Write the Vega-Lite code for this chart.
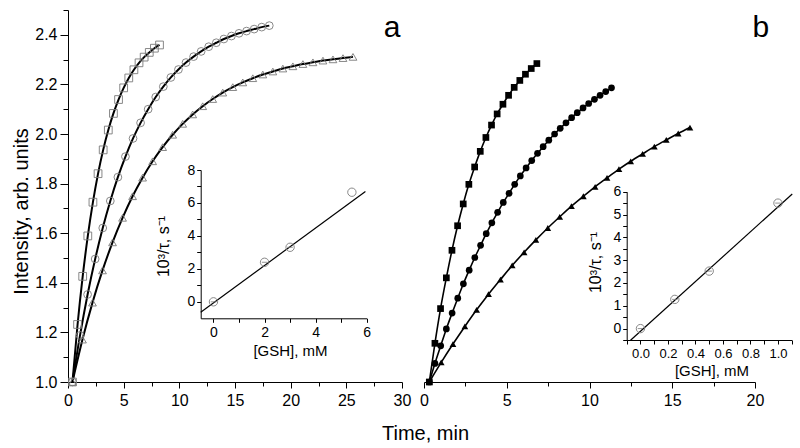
{
  "$schema": "https://vega.github.io/schema/vega-lite/v6.json",
  "width": 732,
  "height": 372,
  "autosize": "none",
  "padding": {"left": 68, "top": 10, "right": 0, "bottom": 66},
  "background": "white",
  "config": {
    "view": {"stroke": null},
    "font": "Liberation Sans",
    "axis": {"domainColor": "black", "tickColor": "black", "labelColor": "black", "titleColor": "black", "grid": false, "labelFont": "Liberation Sans", "titleFont": "Liberation Sans", "titleFontWeight": "normal", "domainWidth": 1, "tickWidth": 1, "labelOverlap": false, "labelFlush": false}
  },
  "datasets": {
    "pa": [
      {"s": "sq", "t": 0.4, "I": 1.0}, {"s": "sq", "t": 0.86, "I": 1.232}, {"s": "sq", "t": 1.32, "I": 1.426}, {"s": "sq", "t": 1.78, "I": 1.589}, {"s": "sq", "t": 2.24, "I": 1.725}, {"s": "sq", "t": 2.7, "I": 1.84}, {"s": "sq", "t": 3.16, "I": 1.936}, {"s": "sq", "t": 3.62, "I": 2.016}, {"s": "sq", "t": 4.08, "I": 2.083}, {"s": "sq", "t": 4.54, "I": 2.139}, {"s": "sq", "t": 5.0, "I": 2.186}, {"s": "sq", "t": 5.46, "I": 2.226}, {"s": "sq", "t": 5.92, "I": 2.259}, {"s": "sq", "t": 6.38, "I": 2.287}, {"s": "sq", "t": 6.84, "I": 2.31}, {"s": "sq", "t": 7.3, "I": 2.329}, {"s": "sq", "t": 7.76, "I": 2.346}, {"s": "sq", "t": 8.22, "I": 2.359},
      {"s": "ci", "t": 0.4, "I": 1.0}, {"s": "ci", "t": 1.08, "I": 1.188}, {"s": "ci", "t": 1.76, "I": 1.353}, {"s": "ci", "t": 2.44, "I": 1.496}, {"s": "ci", "t": 3.12, "I": 1.621}, {"s": "ci", "t": 3.8, "I": 1.73}, {"s": "ci", "t": 4.48, "I": 1.826}, {"s": "ci", "t": 5.16, "I": 1.909}, {"s": "ci", "t": 5.84, "I": 1.982}, {"s": "ci", "t": 6.52, "I": 2.045}, {"s": "ci", "t": 7.2, "I": 2.1}, {"s": "ci", "t": 7.88, "I": 2.149}, {"s": "ci", "t": 8.56, "I": 2.191}, {"s": "ci", "t": 9.24, "I": 2.228}, {"s": "ci", "t": 9.92, "I": 2.26}, {"s": "ci", "t": 10.6, "I": 2.288}, {"s": "ci", "t": 11.28, "I": 2.312}, {"s": "ci", "t": 11.96, "I": 2.333}, {"s": "ci", "t": 12.64, "I": 2.352}, {"s": "ci", "t": 13.32, "I": 2.368}, {"s": "ci", "t": 14.0, "I": 2.383}, {"s": "ci", "t": 14.68, "I": 2.395}, {"s": "ci", "t": 15.36, "I": 2.406}, {"s": "ci", "t": 16.04, "I": 2.415}, {"s": "ci", "t": 16.72, "I": 2.423}, {"s": "ci", "t": 17.4, "I": 2.431}, {"s": "ci", "t": 18.08, "I": 2.437},
      {"s": "tr", "t": 0.4, "I": 1.0}, {"s": "tr", "t": 1.3, "I": 1.171}, {"s": "tr", "t": 2.2, "I": 1.32}, {"s": "tr", "t": 3.1, "I": 1.45}, {"s": "tr", "t": 4.0, "I": 1.563}, {"s": "tr", "t": 4.9, "I": 1.662}, {"s": "tr", "t": 5.8, "I": 1.749}, {"s": "tr", "t": 6.7, "I": 1.824}, {"s": "tr", "t": 7.6, "I": 1.89}, {"s": "tr", "t": 8.5, "I": 1.947}, {"s": "tr", "t": 9.4, "I": 1.997}, {"s": "tr", "t": 10.3, "I": 2.041}, {"s": "tr", "t": 11.2, "I": 2.079}, {"s": "tr", "t": 12.1, "I": 2.112}, {"s": "tr", "t": 13.0, "I": 2.141}, {"s": "tr", "t": 13.9, "I": 2.167}, {"s": "tr", "t": 14.8, "I": 2.189}, {"s": "tr", "t": 15.7, "I": 2.208}, {"s": "tr", "t": 16.6, "I": 2.225}, {"s": "tr", "t": 17.5, "I": 2.24}, {"s": "tr", "t": 18.4, "I": 2.252}, {"s": "tr", "t": 19.3, "I": 2.264}, {"s": "tr", "t": 20.2, "I": 2.273}, {"s": "tr", "t": 21.1, "I": 2.282}, {"s": "tr", "t": 22.0, "I": 2.289}, {"s": "tr", "t": 22.9, "I": 2.296}, {"s": "tr", "t": 23.8, "I": 2.301}, {"s": "tr", "t": 24.7, "I": 2.306}, {"s": "tr", "t": 25.6, "I": 2.311}
    ],
    "pb": [
      {"s": "sq", "t": 0.32, "I": 1.0}, {"s": "sq", "t": 0.66, "I": 1.156}, {"s": "sq", "t": 1.0, "I": 1.296}, {"s": "sq", "t": 1.35, "I": 1.42}, {"s": "sq", "t": 1.69, "I": 1.531}, {"s": "sq", "t": 2.03, "I": 1.63}, {"s": "sq", "t": 2.37, "I": 1.718}, {"s": "sq", "t": 2.71, "I": 1.797}, {"s": "sq", "t": 3.06, "I": 1.867}, {"s": "sq", "t": 3.4, "I": 1.93}, {"s": "sq", "t": 3.74, "I": 1.986}, {"s": "sq", "t": 4.08, "I": 2.036}, {"s": "sq", "t": 4.42, "I": 2.081}, {"s": "sq", "t": 4.77, "I": 2.12}, {"s": "sq", "t": 5.11, "I": 2.156}, {"s": "sq", "t": 5.45, "I": 2.188}, {"s": "sq", "t": 5.79, "I": 2.216}, {"s": "sq", "t": 6.13, "I": 2.241}, {"s": "sq", "t": 6.48, "I": 2.264}, {"s": "sq", "t": 6.82, "I": 2.284},
      {"s": "ci", "t": 0.32, "I": 1.0}, {"s": "ci", "t": 0.66, "I": 1.075}, {"s": "ci", "t": 1.01, "I": 1.146}, {"s": "ci", "t": 1.35, "I": 1.214}, {"s": "ci", "t": 1.7, "I": 1.278}, {"s": "ci", "t": 2.04, "I": 1.338}, {"s": "ci", "t": 2.38, "I": 1.396}, {"s": "ci", "t": 2.73, "I": 1.451}, {"s": "ci", "t": 3.07, "I": 1.502}, {"s": "ci", "t": 3.42, "I": 1.551}, {"s": "ci", "t": 3.76, "I": 1.598}, {"s": "ci", "t": 4.1, "I": 1.642}, {"s": "ci", "t": 4.45, "I": 1.684}, {"s": "ci", "t": 4.79, "I": 1.724}, {"s": "ci", "t": 5.14, "I": 1.761}, {"s": "ci", "t": 5.48, "I": 1.797}, {"s": "ci", "t": 5.82, "I": 1.831}, {"s": "ci", "t": 6.17, "I": 1.863}, {"s": "ci", "t": 6.51, "I": 1.893}, {"s": "ci", "t": 6.86, "I": 1.922}, {"s": "ci", "t": 7.2, "I": 1.949}, {"s": "ci", "t": 7.54, "I": 1.975}, {"s": "ci", "t": 7.89, "I": 2.0}, {"s": "ci", "t": 8.23, "I": 2.023}, {"s": "ci", "t": 8.58, "I": 2.045}, {"s": "ci", "t": 8.92, "I": 2.066}, {"s": "ci", "t": 9.26, "I": 2.086}, {"s": "ci", "t": 9.61, "I": 2.105}, {"s": "ci", "t": 9.95, "I": 2.123}, {"s": "ci", "t": 10.3, "I": 2.14}, {"s": "ci", "t": 10.64, "I": 2.156}, {"s": "ci", "t": 10.98, "I": 2.171}, {"s": "ci", "t": 11.33, "I": 2.186},
      {"s": "tr", "t": 0.32, "I": 1.0}, {"s": "tr", "t": 1.04, "I": 1.079}, {"s": "tr", "t": 1.75, "I": 1.153}, {"s": "tr", "t": 2.47, "I": 1.224}, {"s": "tr", "t": 3.18, "I": 1.291}, {"s": "tr", "t": 3.9, "I": 1.354}, {"s": "tr", "t": 4.62, "I": 1.413}, {"s": "tr", "t": 5.33, "I": 1.47}, {"s": "tr", "t": 6.05, "I": 1.523}, {"s": "tr", "t": 6.76, "I": 1.573}, {"s": "tr", "t": 7.48, "I": 1.621}, {"s": "tr", "t": 8.2, "I": 1.666}, {"s": "tr", "t": 8.91, "I": 1.709}, {"s": "tr", "t": 9.63, "I": 1.749}, {"s": "tr", "t": 10.34, "I": 1.787}, {"s": "tr", "t": 11.06, "I": 1.823}, {"s": "tr", "t": 11.78, "I": 1.858}, {"s": "tr", "t": 12.49, "I": 1.89}, {"s": "tr", "t": 13.21, "I": 1.92}, {"s": "tr", "t": 13.92, "I": 1.949}, {"s": "tr", "t": 14.64, "I": 1.976}, {"s": "tr", "t": 15.36, "I": 2.002}, {"s": "tr", "t": 16.07, "I": 2.026}
    ]
  },
  "layer": [
    {
      "data": {"name": "pa"},
      "encoding": {
        "x": {"field": "t", "type": "quantitative", "scale": {"domain": [0, 30], "range": [0, 334], "nice": false, "zero": false},
          "axis": {"orient": "bottom", "values": [0, 2.5, 5, 7.5, 10, 12.5, 15, 17.5, 20, 22.5, 25, 27.5, 30], "labelExpr": "datum.value % 5 === 0 ? format(datum.value, 'd') : ''", "labelFontSize": 16, "labelPadding": 4, "tickSize": {"condition": {"test": "datum.value % 5 === 0", "value": 6}, "value": 4}, "title": "Time, min", "titleFontSize": 20, "titleX": 357, "titleY": 57, "titleAlign": "center", "titleBaseline": "alphabetic"}},
        "y": {"field": "I", "type": "quantitative", "scale": {"domain": [1, 2.5], "range": [372, 0], "nice": false, "zero": false},
          "axis": {"orient": "left", "values": [1, 1.1, 1.2, 1.3, 1.4, 1.5, 1.6, 1.7, 1.8, 1.9, 2, 2.1, 2.2, 2.3, 2.4, 2.5], "labelExpr": "round(datum.value*10) % 2 === 0 ? format(datum.value, '.1f') : ''", "labelFontSize": 16, "labelPadding": 3, "tickSize": {"condition": {"test": "round(datum.value*10) % 2 === 0", "value": 8}, "value": 5}, "title": "Intensity, arb. units", "titleFontSize": 20, "titleAngle": -90, "titleX": -41, "titleY": 201, "titleAlign": "center", "titleBaseline": "alphabetic"}}
      },
      "layer": [
        {"mark": {"type": "line", "color": "black", "strokeWidth": 2, "interpolate": "monotone"}, "encoding": {"detail": {"field": "s", "type": "nominal"}}},
        {"mark": {"type": "point", "filled": false, "stroke": "#7a7a7a", "strokeWidth": 0.9, "size": 60, "opacity": 1},
          "encoding": {"shape": {"field": "s", "type": "nominal", "scale": {"domain": ["sq", "ci", "tr"], "range": ["square", "circle", "triangle-up"]}, "legend": null}}},
        {"data": {"values": [{"label": "a", "t": 29.1, "I": 2.39}]}, "mark": {"type": "text", "fontSize": 30, "align": "center", "baseline": "alphabetic", "color": "black"}, "encoding": {"text": {"field": "label"}}}
      ]
    },
    {
      "data": {"name": "pb"},
      "encoding": {
        "x": {"field": "t", "type": "quantitative", "scale": {"domain": [0, 20], "range": [356, 687], "nice": false, "zero": false},
          "axis": {"orient": "bottom", "values": [0, 2.5, 5, 7.5, 10, 12.5, 15, 17.5, 20], "labelExpr": "datum.value % 5 === 0 ? format(datum.value, 'd') : ''", "labelFontSize": 16, "labelPadding": 4, "tickSize": {"condition": {"test": "datum.value % 5 === 0", "value": 6}, "value": 4}, "title": null}},
        "y": {"field": "I", "type": "quantitative", "scale": {"domain": [1, 2.5], "range": [372, 0], "nice": false, "zero": false}, "axis": null}
      },
      "layer": [
        {"mark": {"type": "line", "color": "black", "strokeWidth": 1.6, "interpolate": "monotone"}, "encoding": {"detail": {"field": "s", "type": "nominal"}}},
        {"mark": {"type": "point", "filled": true, "color": "black", "size": 45, "opacity": 1},
          "encoding": {"shape": {"field": "s", "type": "nominal", "scale": {"domain": ["sq", "ci", "tr"], "range": ["square", "circle", "triangle-up"]}, "legend": null}}},
        {"data": {"values": [{"label": "b", "t": 20.36, "I": 2.39}]}, "mark": {"type": "text", "fontSize": 30, "align": "center", "baseline": "alphabetic", "color": "black"}, "encoding": {"text": {"field": "label"}}}
      ]
    },
    {
      "encoding": {
        "x": {"field": "c", "type": "quantitative", "scale": {"domain": [-0.5, 6], "range": [132.7, 298.7], "nice": false, "zero": false},
          "axis": {"orient": "bottom", "offset": -63.7, "values": [0, 1, 2, 3, 4, 5, 6], "labelExpr": "datum.value % 2 === 0 ? format(datum.value, 'd') : ''", "labelFontSize": 14, "labelPadding": 3, "tickSize": 4, "title": "[GSH], mM", "titleFontSize": 15, "titleX": 222, "titleY": 37, "titleAlign": "center", "titleBaseline": "alphabetic"}},
        "y": {"field": "r", "type": "quantitative", "scale": {"domain": [-1, 8], "range": [308.3, 160], "nice": false, "zero": false},
          "axis": {"orient": "left", "offset": -132.7, "values": [0, 1, 2, 3, 4, 5, 6, 7, 8], "labelExpr": "datum.value % 2 === 0 ? format(datum.value, 'd') : ''", "labelFontSize": 14, "labelPadding": 2, "tickSize": 4, "title": "10³/τ, s⁻¹", "titleFontSize": 16, "titleAngle": -90, "titleX": -32.7, "titleY": 236, "titleAlign": "center", "titleBaseline": "alphabetic"}}
      },
      "layer": [
        {"data": {"values": [{"c": -0.5, "r": -0.627}, {"c": 5.95, "r": 6.69}]}, "mark": {"type": "line", "color": "black", "strokeWidth": 1.2}, "encoding": {}},
        {"data": {"values": [{"c": 0, "r": 0}, {"c": 2, "r": 2.4}, {"c": 3, "r": 3.31}, {"c": 5.42, "r": 6.65}]}, "mark": {"type": "point", "filled": false, "stroke": "#7a7a7a", "strokeWidth": 0.9, "size": 70, "opacity": 1, "shape": "circle"}, "encoding": {}},
        {"data": {"values": [{"c": 0, "r": 0}, {"c": 2, "r": 2.4}, {"c": 3, "r": 3.31}]}, "mark": {"type": "point", "filled": false, "stroke": "#7a7a7a", "strokeWidth": 0.8, "size": 30, "opacity": 1, "shape": "stroke"}, "encoding": {}}
      ]
    },
    {
      "encoding": {
        "x": {"field": "c", "type": "quantitative", "scale": {"domain": [-0.1, 1.1], "range": [558.7, 723.7], "nice": false, "zero": false},
          "axis": {"orient": "bottom", "offset": -42, "values": [-0.1, 0, 0.1, 0.2, 0.3, 0.4, 0.5, 0.6, 0.7, 0.8, 0.9, 1.0, 1.1], "labelExpr": "round(datum.value*10) % 2 === 0 ? format(datum.value, '.1f') : ''", "labelFontSize": 13, "labelPadding": 3, "tickSize": 4, "title": "[GSH], mM", "titleFontSize": 15, "titleX": 643.5, "titleY": 35, "titleAlign": "center", "titleBaseline": "alphabetic"}},
        "y": {"field": "r", "type": "quantitative", "scale": {"domain": [-0.5, 6], "range": [330, 181.7], "nice": false, "zero": false},
          "axis": {"orient": "left", "offset": -558.7, "values": [-0.5, 0, 0.5, 1, 1.5, 2, 2.5, 3, 3.5, 4, 4.5, 5, 5.5, 6], "labelExpr": "datum.value % 1 === 0 ? format(datum.value, 'd') : ''", "labelFontSize": 14, "labelPadding": 2, "tickSize": 4, "title": "10³/τ, s⁻¹", "titleFontSize": 16, "titleAngle": -90, "titleX": -26.7, "titleY": 252, "titleAlign": "center", "titleBaseline": "alphabetic"}}
      },
      "layer": [
        {"data": {"values": [{"c": -0.072, "r": -0.51}, {"c": 1.104, "r": 5.9}]}, "mark": {"type": "line", "color": "black", "strokeWidth": 1.2}, "encoding": {}},
        {"data": {"values": [{"c": 0, "r": 0}, {"c": 0.25, "r": 1.28}, {"c": 0.5, "r": 2.52}, {"c": 1.0, "r": 5.5}]}, "mark": {"type": "point", "filled": false, "stroke": "#7a7a7a", "strokeWidth": 0.9, "size": 70, "opacity": 1, "shape": "circle"}, "encoding": {}},
        {"data": {"values": [{"c": 0, "r": 0}, {"c": 0.25, "r": 1.28}, {"c": 0.5, "r": 2.52}, {"c": 1.0, "r": 5.5}]}, "mark": {"type": "point", "filled": false, "stroke": "#7a7a7a", "strokeWidth": 0.8, "size": 30, "opacity": 1, "shape": "stroke"}, "encoding": {}}
      ]
    }
  ],
  "resolve": {"scale": {"x": "independent", "y": "independent"}, "axis": {"x": "independent", "y": "independent"}}
}
